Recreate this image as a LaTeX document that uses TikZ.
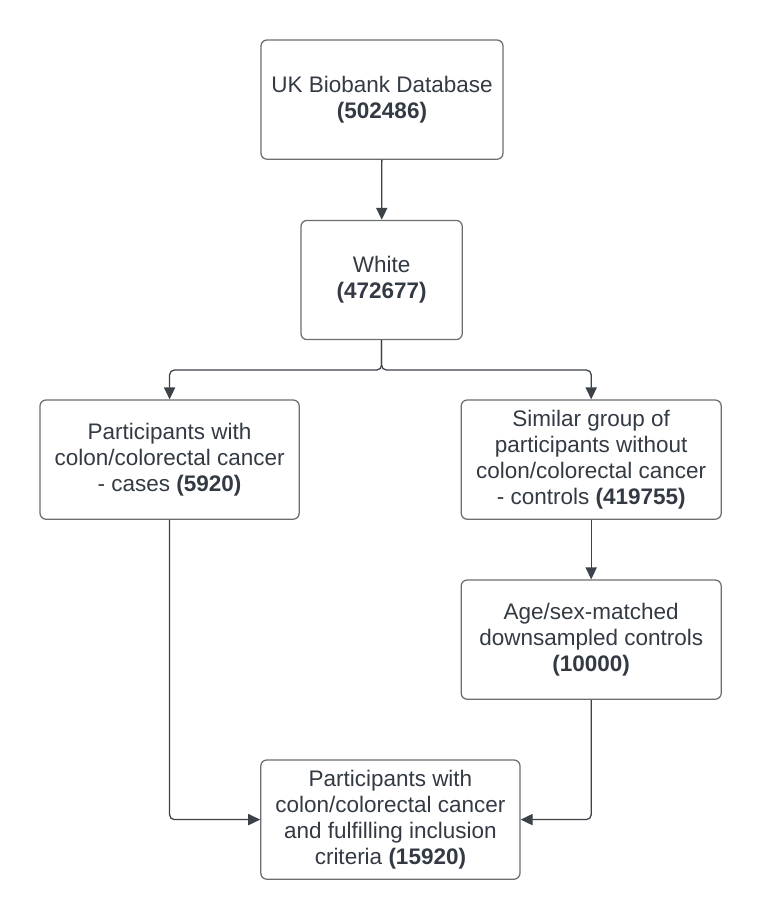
\documentclass[tikz,border=0pt]{standalone}
\usepackage{fontspec}
\setmainfont{Liberation Sans}
\usetikzlibrary{positioning, calc, arrows.meta}

\definecolor{txtgray}{HTML}{333A44}
\definecolor{boxgray}{HTML}{6A6D72}
\definecolor{lingray}{HTML}{3C424A}

\begin{document}
\begin{tikzpicture}[
    stage/.style={rectangle, draw=boxgray, line width=0.9pt, rounded corners=0.15cm,
        minimum height=2.98cm, align=center, text=txtgray,
        font=\fontsize{16}{18.3}\selectfont},
    arrow/.style={-{Triangle[length=0.3cm, width=0.28cm]}, line width=0.9pt, lingray, rounded corners=0.12cm}
]
    \useasboundingbox (0,0) rectangle (19.05,-23);

    % Top of the flow
    \node[stage, minimum width=6.05cm] (biobank) at (9.55, -2.49) {UK Biobank Database\\\textbf{(502486)}};
    \node[stage, minimum width=4.03cm] (white) at (9.54, -7.0) {White\\\textbf{(472677)}};

    % Split into cases and controls
    \node[stage, minimum width=6.48cm] (cases) at (4.24, -11.49) {Participants with\\colon/colorectal cancer\\- cases \textbf{(5920)}};
    \node[stage, minimum width=6.5cm] (controls) at (14.78, -11.49) {Similar group of\\participants without\\colon/colorectal cancer\\- controls \textbf{(419755)}};
    \node[stage, minimum width=6.5cm] (matched) at (14.78, -15.99) {Age/sex-matched\\downsampled controls\\\textbf{(10000)}};

    % Final set
    \node[stage, minimum width=6.48cm] (final) at (9.76, -20.49) {Participants with\\colon/colorectal cancer\\and fulfilling inclusion\\criteria \textbf{(15920)}};

    \coordinate (split) at (9.54, -9.25);

    % Connections
    \draw[arrow] (biobank) -- (white);
    \draw[arrow] (white.south) -- (split) -| (cases.north);
    \draw[arrow] (white.south) -- (split) -| (controls.north);
    \draw[arrow] (controls) -- (matched);
    \draw[arrow] (cases.south) |- (final.west);
    \draw[arrow] (matched.south) |- (final.east);

\end{tikzpicture}
\end{document}
